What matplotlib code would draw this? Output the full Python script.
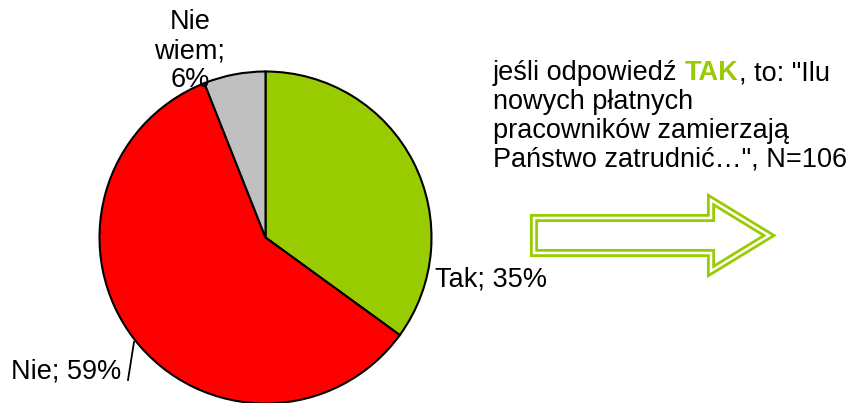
import matplotlib
matplotlib.use("Agg")
import matplotlib.pyplot as plt
from matplotlib.patches import Polygon

# --- Data ---
categories = ["Tak", "Nie", "Nie wiem"]
shares = [35, 59, 6]
colors = ["#99CC00", "#FF0000", "#C0C0C0"]
note_lines = [
    ["jeśli odpowiedź ", "TAK", ", to: \"Ilu"],
    ["nowych płatnych"],
    ["pracowników zamierzają"],
    ["Państwo zatrudnić…\", N=106"],
]

W, H = 853, 403
plt.rcParams["font.family"] = ["Liberation Sans", "DejaVu Sans"]

fig = plt.figure(figsize=(W / 100, H / 100), dpi=100)
ax = fig.add_axes([0, 0, 1, 1])

# pie in pixel space (y axis flipped, so counterclock=True reads clockwise)
cx, cy, r = 265.5, 237.5, 166
ax.pie(shares, colors=colors, startangle=-90, counterclock=True,
       center=(cx, cy), radius=r, frame=True,
       wedgeprops=dict(edgecolor="black", linewidth=1.5))
ax.set_xlim(0, W)
ax.set_ylim(H, 0)
ax.set_aspect("equal")
ax.axis("off")

fs = 19.5
labels = [f"{c}; {v}%" for c, v in zip(categories, shares)]
ax.text(435, 279, labels[0], fontsize=fs, ha="left", va="center")
ax.text(121, 371, labels[1], fontsize=fs, ha="right", va="center")
ax.text(190, 51, "Nie\nwiem;\n" + f"{shares[2]}%", fontsize=fs, ha="center",
        va="center", linespacing=1.13)
ax.plot([128, 134], [380, 342], color="black", lw=1.3)

# note text, mixed colour on first line
renderer = fig.canvas.get_renderer()
baselines = [80, 109, 138, 167]
for parts, yb in zip(note_lines, baselines):
    x = 493
    for p in parts:
        bold = p == "TAK"
        t = ax.text(x, yb, p, fontsize=fs, ha="left", va="baseline",
                    color="#99CC00" if bold else "black",
                    fontweight="bold" if bold else "normal")
        bb = t.get_window_extent(renderer=renderer)
        x += bb.width

# double-outlined arrow
arrow_xy = [(534, 218), (711, 218), (711, 200), (769, 235.5),
            (711, 271), (711, 253), (534, 253)]
ax.add_patch(Polygon(arrow_xy, closed=True, fill=False, edgecolor="#99CC00",
                     lw=5.8, joinstyle="miter"))
ax.add_patch(Polygon(arrow_xy, closed=True, fill=False, edgecolor="white",
                     lw=1.8, joinstyle="miter"))

fig.savefig("out.png", dpi=100)
